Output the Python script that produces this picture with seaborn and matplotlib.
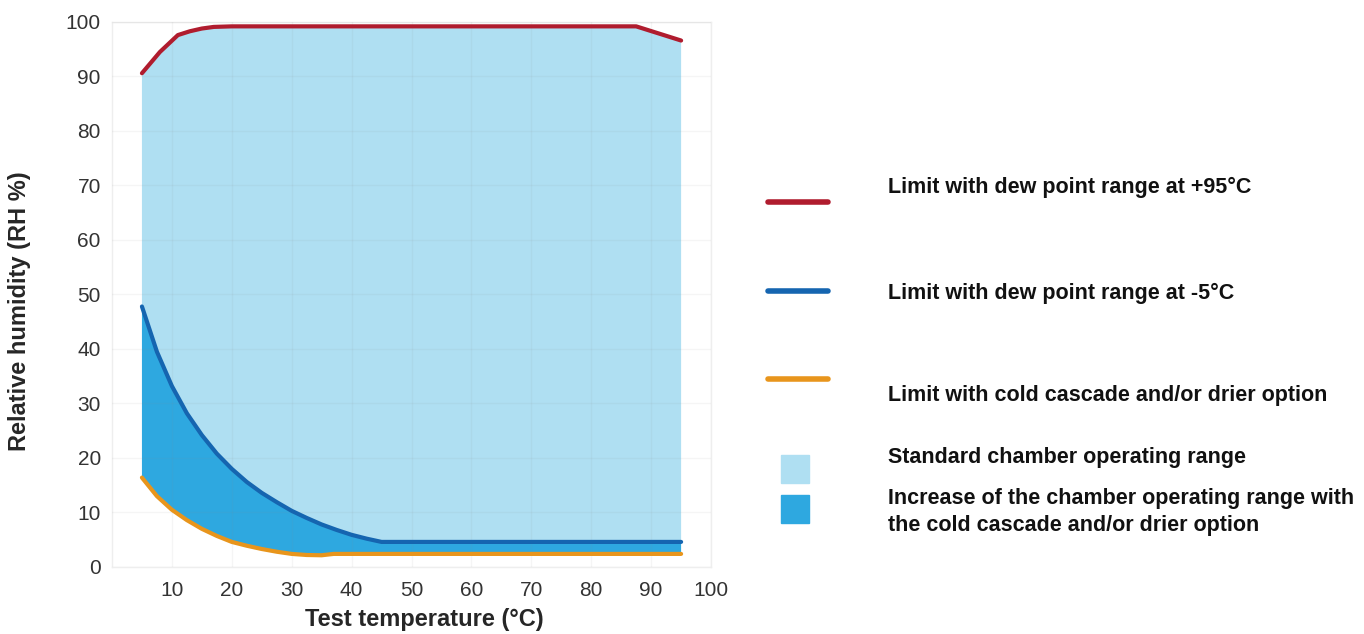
import numpy as np
import pandas as pd
import seaborn as sns
import matplotlib.pyplot as plt
from matplotlib.lines import Line2D
from matplotlib.patches import Rectangle

# limit with dew point range at +95°C
red_x = [5, 8, 11, 13, 15, 17, 20, 87.5, 95]
red_y = [90.6, 94.5, 97.6, 98.3, 98.8, 99.1, 99.2, 99.2, 96.6]

# limit with dew point range at -5°C
blue_x = [5, 7.5, 10, 12.5, 15, 17.5, 20, 22.5, 25, 27.5, 30, 32.5, 35, 37.5, 40, 42.5, 45, 95]
blue_y = [47.8, 39.5, 33.2, 28.2, 24.2, 20.8, 18.0, 15.6, 13.6, 11.9, 10.3, 9.0, 7.8, 6.8, 5.9, 5.2, 4.6, 4.6]

# limit with cold cascade and/or drier option
orange_x = [5, 7.5, 10, 12.5, 15, 17.5, 20, 22.5, 25, 27.5, 30, 32.5, 35, 37, 95]
orange_y = [16.4, 13.0, 10.5, 8.6, 7.0, 5.7, 4.6, 3.9, 3.3, 2.8, 2.4, 2.2, 2.15, 2.4, 2.4]

legend_labels = [
    'Limit with dew point range at +95°C',
    'Limit with dew point range at -5°C',
    'Limit with cold cascade and/or drier option',
    'Standard chamber operating range',
    'Increase of the chamber operating range with\nthe cold cascade and/or drier option',
]

c_red = '#b01c2e'
c_blue = '#1565b0'
c_orange = '#e8951c'
c_light = '#afdff2'
c_dark = '#2ea8e0'

sns.set_style('white')
plt.rcParams['font.family'] = ['Liberation Sans', 'DejaVu Sans']

fig = plt.figure(figsize=(13.64, 6.34), dpi=100)
ax = fig.add_axes([0.0821, 0.1057, 0.4392, 0.8596])

# fills as polygons between curves
ax.fill(np.r_[red_x, blue_x[::-1]], np.r_[red_y, blue_y[::-1]], color=c_light, lw=0, zorder=1)
ax.fill(np.r_[blue_x, orange_x[::-1]], np.r_[blue_y, orange_y[::-1]], color=c_dark, lw=0, zorder=1)

df = pd.concat([
    pd.DataFrame({'x': red_x, 'y': red_y, 's': 'red'}),
    pd.DataFrame({'x': blue_x, 'y': blue_y, 's': 'blue'}),
    pd.DataFrame({'x': orange_x, 'y': orange_y, 's': 'orange'}),
])
sns.lineplot(data=df, x='x', y='y', hue='s', sort=False, estimator=None,
             palette={'red': c_red, 'blue': c_blue, 'orange': c_orange},
             lw=3, legend=False, ax=ax, zorder=3)

ax.set_xlim(0, 100)
ax.set_ylim(0, 100)
ax.set_xticks(range(10, 101, 10))
ax.set_yticks(range(0, 101, 10))
ax.set_axisbelow(False)
ax.grid(True, color='#888888', alpha=0.08, lw=1, zorder=2)
for s in ax.spines.values():
    s.set_color('#eeeeee')
    s.set_linewidth(1)
ax.tick_params(axis='both', labelsize=15, colors='#333333', length=0)
ax.tick_params(axis='x', pad=10)
ax.tick_params(axis='y', pad=8)
ax.set_xlabel('Test temperature (°C)', fontsize=17, fontweight='bold')
ax.set_ylabel('Relative humidity (RH %)', fontsize=17, fontweight='bold')
ax.xaxis.set_label_coords(0.522, -0.075)
ax.yaxis.set_label_coords(-0.135, 0.47)

# legend on the right, in figure coords
W, H = 1364, 634
def fx(p):
    return p / W
def fy(p):
    return 1 - p / H

for col, yy in zip([c_red, c_blue, c_orange], [202, 291, 379]):
    fig.add_artist(Line2D([fx(768), fx(828)], [fy(yy), fy(yy)], color=col, lw=4))
fig.add_artist(Rectangle((fx(781), fy(483)), 28 / W, 28 / H, color=c_light))
fig.add_artist(Rectangle((fx(781), fy(523)), 28 / W, 28 / H, color=c_dark))

for lab, yy in zip(legend_labels, [187, 293, 396, 457, 512]):
    fig.text(fx(888), fy(yy), lab, fontsize=15.5, fontweight='bold', va='center',
             ha='left', color='#111111', linespacing=1.35)

fig.savefig('out.png', dpi=100)
